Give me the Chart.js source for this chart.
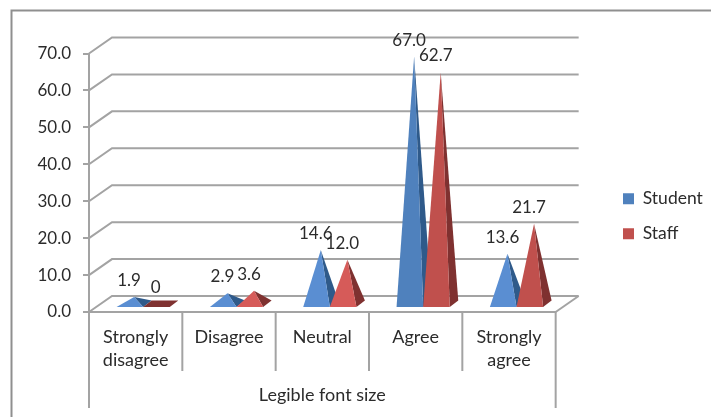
<!DOCTYPE html>
<html>
<head>
<meta charset="utf-8">
<style>
html,body{margin:0;padding:0;background:#fff}
canvas{display:block}
</style>
<script src="https://cdn.jsdelivr.net/npm/chart.js@4/dist/chart.umd.min.js"></script>
</head>
<body>
<canvas id="chart" width="711" height="417"></canvas>
<script>
const categories = [["Strongly","disagree"],"Disagree","Neutral","Agree",["Strongly","agree"]]
const student = [1.9,2.9,14.6,67.0,13.6]
const staff = [0,3.6,12.0,62.7,21.7]
const studentLabels = ["1.9","2.9","14.6","67.0","13.6"]
const staffLabels = ["0","3.6","12.0","62.7","21.7"]
const axisTitle = "Legible font size"

const FONT = "Lato"
const NUM_SIZE = 17
const TEXT_SIZE = 18
const TEXT = "#2b2b2b"
const LINE = "#a3a3a3"

// how far the back wall sits behind the axes
const WALL_X = 23
const WALL_Y = -16

function poly(ctx,pts,fill){
ctx.beginPath()
pts.forEach((p,i)=> i ? ctx.lineTo(p[0],p[1]) : ctx.moveTo(p[0],p[1]))
ctx.closePath()
ctx.fillStyle = fill
ctx.fill()
}

function line(ctx,pts,color,width){
ctx.beginPath()
pts.forEach((p,i)=> i ? ctx.lineTo(p[0],p[1]) : ctx.moveTo(p[0],p[1]))
ctx.strokeStyle = color
ctx.lineWidth = width
ctx.stroke()
}

function drawFrame(ctx){
line(ctx,[[11.5,417],[11.5,10.5],[711,10.5]],"#8f8f8f",2)
}

function drawWalls(chart){
const ctx = chart.ctx
const x = chart.scales.x
const y = chart.scales.y
y.ticks.forEach((t,i)=>{
const py = y.getPixelForTick(i)
line(ctx,[[x.left,py],[x.left+WALL_X,py+WALL_Y],[x.right+WALL_X,py+WALL_Y]],LINE,2)
})
const y0 = y.getPixelForValue(0)
line(ctx,[[x.right,y0],[x.right+WALL_X,y0+WALL_Y]],LINE,2)

// separators under the axis, the outer two run down past the title
categories.concat([""]).forEach((c,i)=>{
const px = x.getPixelForValue(i-0.5)
const outer = i===0 || i===categories.length
line(ctx,[[px,y0],[px,outer ? 408 : 371]],LINE,2)
})
}

function drawPyramid(ctx,el,value,front,frontSmall,side,y0,apexY){
const w = el.width
const fl = [el.x-w/2+7.5,y0-5]
const fr = [el.x+w/2+7.5,y0-5]
const br = [fr[0]+8.5,fr[1]-6.5]
const bl = [fl[0]+8.5,fl[1]-6.5]
const apex = [el.x+11.75,apexY-8]
if(value===0){
poly(ctx,[fl,fr,br,bl],side)
return
}
poly(ctx,[fr,br,apex],side)
poly(ctx,[fl,fr,apex],value<20 ? frontSmall : front)
}

const pyramidPlugin = {
id:"pyramids",
afterLayout(chart){
const lg = chart.legend
const p = lg.options.labels.padding
const w = lg.right-lg.left
lg.left = 623-p
lg.right = lg.left+w
lg.top -= 15
lg.bottom -= 15
},
beforeDatasetsDraw(chart){
const ctx = chart.ctx
const y = chart.scales.y
const y0 = y.getPixelForValue(0)
drawFrame(ctx)
drawWalls(chart)

const looks = [
{front:"#4f81bd",small:"#5a8ed2",side:"#2f5a8a",values:student,text:studentLabels},
{front:"#c0504d",small:"#d65b59",side:"#7f3130",values:staff,text:staffLabels}
]
looks.forEach((s,d)=>{
chart.getDatasetMeta(d).data.forEach((el,i)=>{
drawPyramid(ctx,el,s.values[i],s.front,s.small,s.side,y0,y.getPixelForValue(s.values[i]))
})
})

ctx.font = NUM_SIZE+"px "+FONT
ctx.fillStyle = TEXT
ctx.textAlign = "center"
ctx.textBaseline = "middle"
looks.forEach((s,d)=>{
chart.getDatasetMeta(d).data.forEach((el,i)=>{
ctx.fillText(s.text[i],el.x+6.75,y.getPixelForValue(s.values[i])-24.5)
})
})
return false
}
}

new Chart(document.getElementById("chart"),{
type:"bar",
data:{
labels:categories,
datasets:[
{label:"Student",data:student,backgroundColor:"#4f81bd"},
{label:"Staff",data:staff,backgroundColor:"#c0504d"}
]
},
options:{
responsive:false,
animation:false,
categoryPercentage:0.57,
barPercentage:1,
layout:{padding:{left:20,top:53.5,right:48,bottom:8}},
plugins:{
tooltip:{enabled:false},
title:{display:false},
legend:{
position:"right",
labels:{
boxWidth:11,
boxHeight:11,
padding:17.5,
color:TEXT,
font:{family:FONT,size:17.5}
}
}
},
scales:{
x:{
afterFit(s){s.height = 97},
grid:{display:false},
border:{color:LINE,width:2},
ticks:{color:TEXT,padding:6,maxRotation:0,font:{family:FONT,size:TEXT_SIZE,lineHeight:1.28}},
title:{display:true,text:axisTitle,color:TEXT,font:{family:FONT,size:TEXT_SIZE},padding:{top:0,bottom:3}}
},
y:{
min:0,
max:70,
afterFit(s){s.width = 69},
grid:{drawOnChartArea:false,drawTicks:true,tickLength:6,color:LINE,lineWidth:2},
border:{color:LINE,width:2},
ticks:{stepSize:10,color:TEXT,padding:12,font:{family:FONT,size:NUM_SIZE},callback:v=>v.toFixed(1)}
}
}
},
plugins:[pyramidPlugin]
})
</script>
</body>
</html>
